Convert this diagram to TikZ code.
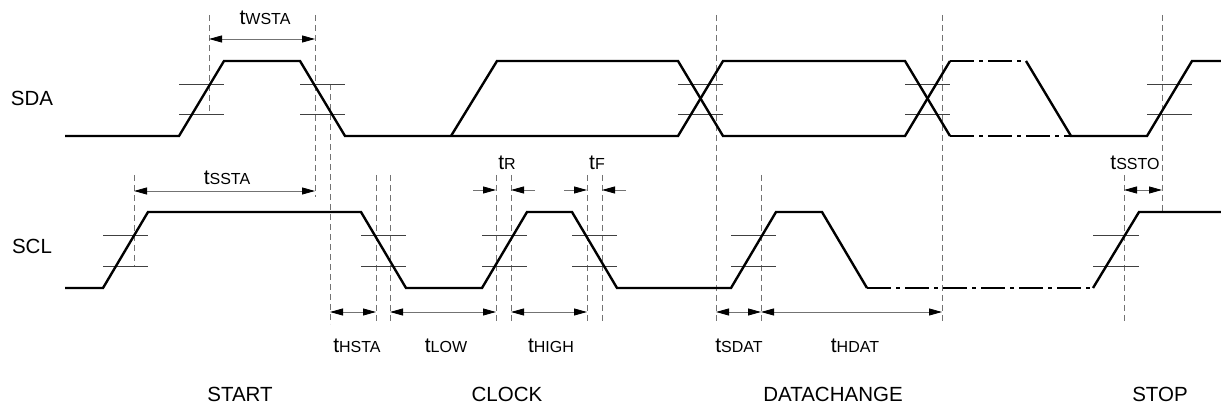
\documentclass[tikz,border=0pt]{standalone}
\usepackage{fontspec}
\setmainfont{Liberation Sans}
\usetikzlibrary{arrows.meta}
\newcommand{\tlab}[1]{{\fontsize{21bp}{24bp}\selectfont t}{\fontsize{16bp}{18bp}\selectfont #1}}

\begin{document}
\begin{tikzpicture}[>={Triangle[length=13bp,width=7bp,color=black]}]
      \tikzstyle{every node}=[font=\fontsize{20.5bp}{24bp}\selectfont, inner sep=0pt]
      \tikzstyle{sig}=[line width=2.4bp]
      \tikzstyle{sigdd}=[sig, dash pattern=on 24bp off 5bp on 4bp off 5bp]
      \tikzstyle{thr}=[line width=0.8bp, black!75]
      \tikzstyle{guide}=[line width=0.8bp, black!55, dash pattern=on 6bp off 4bp]
      \tikzstyle{dim}=[line width=0.8bp, black!55]
      \useasboundingbox (0bp,0bp) rectangle (1221bp,409bp);
      %%
  \node (sda) at (32bp,311bp) {SDA};
  \node (scl) at (32bp,163bp) {SCL};
  \node (wsta) at (265bp,391bp) {\tlab{WSTA}};
  \node (ssta) at (227bp,231bp) {\tlab{SSTA}};
  \node (tr) at (507bp,246bp) {\tlab{R}};
  \node (tf) at (597bp,246bp) {\tlab{F}};
  \node (ssto) at (1135bp,246bp) {\tlab{SSTO}};
  \node (hsta) at (357bp,63bp) {\tlab{HSTA}};
  \node (low) at (446bp,63bp) {\tlab{LOW}};
  \node (high) at (551bp,63bp) {\tlab{HIGH}};
  \node (sdat) at (739bp,63bp) {\tlab{SDAT}};
  \node (hdat) at (855bp,63bp) {\tlab{HDAT}};
  \node (start) at (240bp,15bp) {START};
  \node (clock) at (507bp,15bp) {CLOCK};
  \node (datachange) at (833bp,15bp) {DATACHANGE};
  \node (stop) at (1160bp,15bp) {STOP};
  %% guide lines
  \draw [guide] (209bp,394bp) -- (209bp,295bp);
  \draw [guide] (315bp,394bp) -- (315bp,212bp);
  \draw [guide] (330bp,325bp) -- (330bp,85bp);
  \draw [guide] (134bp,234bp) -- (134bp,143bp);
  \draw [guide] (376bp,234bp) -- (376bp,85bp);
  \draw [guide] (390bp,234bp) -- (390bp,85bp);
  \draw [guide] (496bp,234bp) -- (496bp,85bp);
  \draw [guide] (511bp,234bp) -- (511bp,85bp);
  \draw [guide] (587bp,234bp) -- (587bp,85bp);
  \draw [guide] (602bp,234bp) -- (602bp,85bp);
  \draw [guide] (716bp,394bp) -- (716bp,85bp);
  \draw [guide] (761bp,234bp) -- (761bp,85bp);
  \draw [guide] (942bp,394bp) -- (942bp,85bp);
  \draw [guide] (1124bp,234bp) -- (1124bp,85bp);
  \draw [guide] (1162bp,394bp) -- (1162bp,197bp);
  %% thresholds
  \draw [thr] (179bp,325bp) -- (224bp,325bp) (179bp,295bp) -- (224bp,295bp);
  \draw [thr] (300bp,325bp) -- (345bp,325bp) (300bp,295bp) -- (345bp,295bp);
  \draw [thr] (678bp,325bp) -- (723bp,325bp) (678bp,295bp) -- (723bp,295bp);
  \draw [thr] (905bp,325bp) -- (950bp,325bp) (905bp,295bp) -- (950bp,295bp);
  \draw [thr] (1147bp,325bp) -- (1192bp,325bp) (1147bp,295bp) -- (1192bp,295bp);
  \draw [thr] (103bp,174bp) -- (148bp,174bp) (103bp,143bp) -- (148bp,143bp);
  \draw [thr] (361bp,174bp) -- (406bp,174bp) (361bp,143bp) -- (406bp,143bp);
  \draw [thr] (482bp,174bp) -- (527bp,174bp) (482bp,143bp) -- (527bp,143bp);
  \draw [thr] (572bp,174bp) -- (617bp,174bp) (572bp,143bp) -- (617bp,143bp);
  \draw [thr] (731bp,174bp) -- (776bp,174bp) (731bp,143bp) -- (776bp,143bp);
  \draw [thr] (1093bp,174bp) -- (1139bp,174bp) (1093bp,143bp) -- (1139bp,143bp);
  %% SDA
  \draw [sig] (65bp,273bp) -- (179bp,273bp) -- (224bp,348bp) -- (300bp,348bp) -- (345bp,273bp) -- (678bp,273bp) -- (723bp,348bp) -- (905bp,348bp) -- (950bp,273bp);
  \draw [sig] (451bp,273bp) -- (497bp,348bp) -- (678bp,348bp) -- (723bp,273bp) -- (905bp,273bp) -- (950bp,348bp);
  \draw [sigdd] (950bp,348bp) -- (1026bp,348bp);
  \draw [sigdd] (950bp,273bp) -- (1071bp,273bp);
  \draw [sig] (1026bp,348bp) -- (1071bp,273bp) -- (1147bp,273bp) -- (1192bp,348bp) -- (1221bp,348bp);
  %% SCL
  \draw [sig] (65bp,121bp) -- (103bp,121bp) -- (148bp,197bp) -- (361bp,197bp) -- (406bp,121bp) -- (482bp,121bp) -- (527bp,197bp) -- (572bp,197bp) -- (617bp,121bp) -- (731bp,121bp) -- (776bp,197bp) -- (822bp,197bp) -- (867bp,121bp);
  \draw [sigdd] (867bp,121bp) -- (1093bp,121bp);
  \draw [sig] (1093bp,121bp) -- (1139bp,197bp) -- (1221bp,197bp);
  %% timing arrows
  \coordinate (wsta_a) at (209bp,370bp);
  \coordinate (wsta_b) at (315bp,370bp);
  \coordinate (ssta_a) at (134bp,218bp);
  \coordinate (ssta_b) at (315bp,218bp);
  \coordinate (hsta_a) at (330bp,97bp);
  \coordinate (hsta_b) at (376bp,97bp);
  \coordinate (low_a) at (390bp,97bp);
  \coordinate (low_b) at (496bp,97bp);
  \coordinate (high_a) at (511bp,97bp);
  \coordinate (high_b) at (587bp,97bp);
  \coordinate (sdat_a) at (716bp,97bp);
  \coordinate (sdat_b) at (761bp,97bp);
  \coordinate (hdat_b) at (942bp,97bp);
  \coordinate (ssto_a) at (1124bp,219bp);
  \coordinate (ssto_b) at (1162bp,219bp);
  \coordinate (tr_o1) at (473bp,219bp);
  \coordinate (tr_i1) at (496bp,219bp);
  \coordinate (tr_o2) at (535bp,219bp);
  \coordinate (tr_i2) at (511bp,219bp);
  \coordinate (tf_o1) at (564bp,219bp);
  \coordinate (tf_i1) at (587bp,219bp);
  \coordinate (tf_o2) at (626bp,219bp);
  \coordinate (tf_i2) at (602bp,219bp);
  \draw [dim,<->] (wsta_a) -- (wsta_b);
  \draw [dim,<->] (ssta_a) -- (ssta_b);
  \draw [dim,<->] (hsta_a) -- (hsta_b);
  \draw [dim,<->] (low_a) -- (low_b);
  \draw [dim,<->] (high_a) -- (high_b);
  \draw [dim,<->] (sdat_a) -- (sdat_b);
  \draw [dim,<->] (sdat_b) -- (hdat_b);
  \draw [dim,<->] (ssto_a) -- (ssto_b);
  \draw [dim,->] (tr_o1) -- (tr_i1);
  \draw [dim,->] (tr_o2) -- (tr_i2);
  \draw [dim,->] (tf_o1) -- (tf_i1);
  \draw [dim,->] (tf_o2) -- (tf_i2);
%
\end{tikzpicture}
\end{document}
